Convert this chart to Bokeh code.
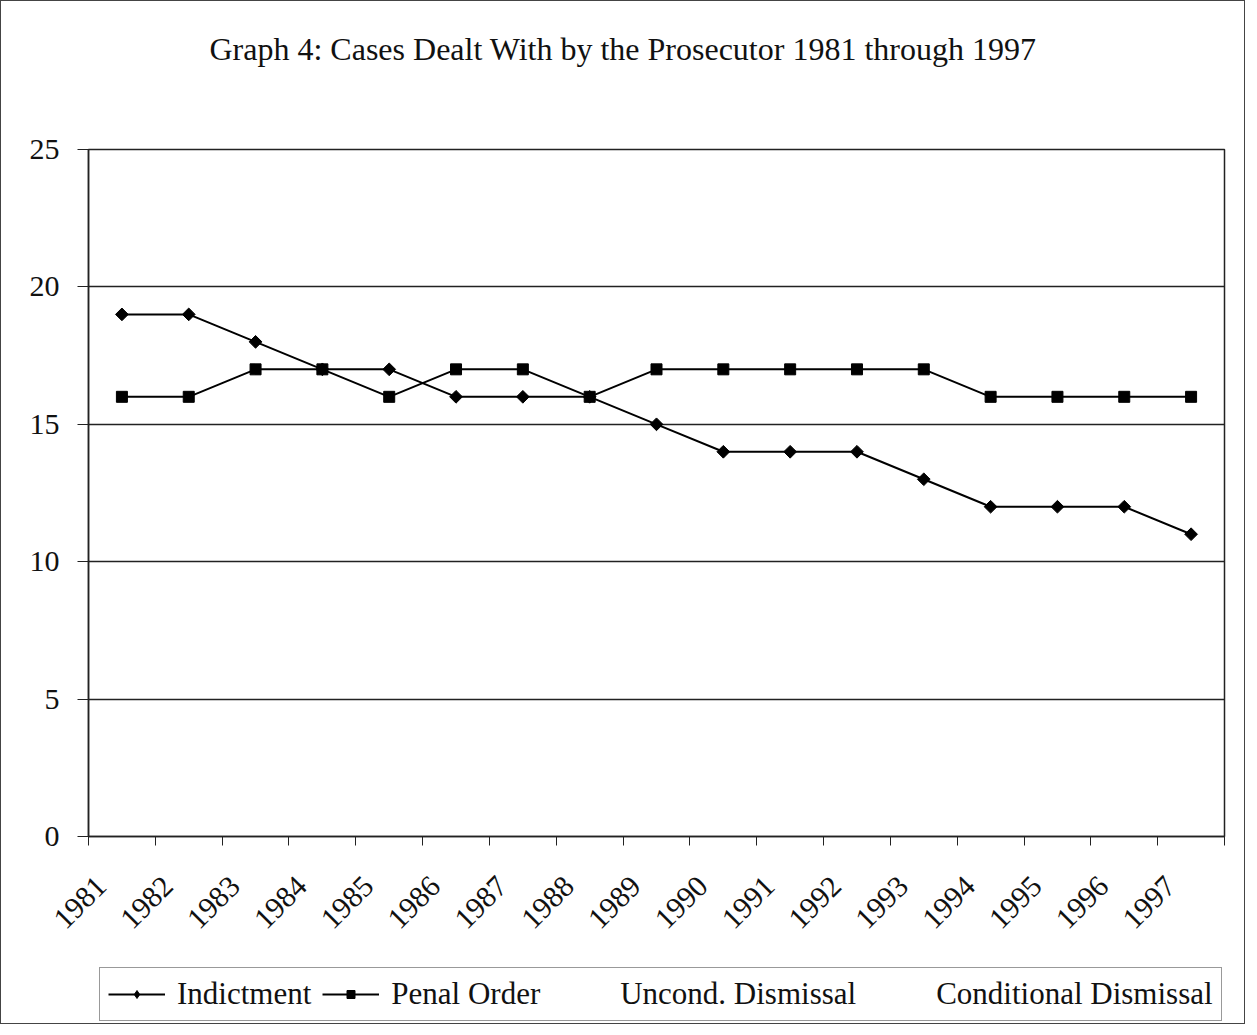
import math
from bokeh.plotting import figure
from bokeh.layouts import column
from bokeh.models import FixedTicker, Range1d, Legend, LegendItem, Title
from bokeh.embed import file_html
from bokeh.resources import INLINE

years = [1981, 1982, 1983, 1984, 1985, 1986, 1987, 1988, 1989,
         1990, 1991, 1992, 1993, 1994, 1995, 1996, 1997]
indictment = [19, 19, 18, 17, 17, 16, 16, 16, 15, 14, 14, 14, 13, 12, 12, 12, 11]
penal_order = [16, 16, 17, 17, 16, 17, 17, 16, 17, 17, 17, 17, 17, 16, 16, 16, 16]
uncond_dismissal = []      # not visible in the reference
conditional_dismissal = []  # not visible in the reference
y_ticks = [0, 5, 10, 15, 20, 25]
title_text = "Graph 4: Cases Dealt With by the Prosecutor 1981 through 1997"
series_names = ["Indictment", "Penal Order", "Uncond. Dismissal", "Conditional Dismissal"]

FONT = "Liberation Serif"
NB = "\u00a0"

p = figure(width=1243, height=952, output_backend="svg", toolbar_location=None,
           x_range=Range1d(years[0] - 0.5, years[-1] + 0.5),
           y_range=Range1d(y_ticks[0], y_ticks[-1]),
           min_border_left=87, min_border_right=20, min_border_top=148, min_border_bottom=117)

p.title.text = title_text
p.title.text_font = FONT
p.title.text_font_size = "32px"
p.title.text_font_style = "normal"
p.title.align = "left"
p.title.offset = 121
p.title.standoff = 10
p.title.text_color = "#111"
# blank spacer between the title and the plot area
p.add_layout(Title(text=NB, text_font=FONT, text_font_size="32px", standoff=40), "above")

p.outline_line_color = "#222"
p.outline_line_width = 1.5
p.background_fill_color = "white"
p.border_fill_color = "white"

# x axis: labels at category centres, ticks at category boundaries
xa = p.xaxis[0]
xa.ticker = FixedTicker(ticks=years, minor_ticks=[y - 0.5 for y in years] + [years[-1] + 0.5])
xa.major_label_overrides = {y: str(y) + NB * 4 for y in years}
xa.major_tick_out = 0
xa.major_tick_in = 0
xa.minor_tick_out = 9
xa.minor_tick_in = 0
xa.minor_tick_line_color = "#222"
xa.axis_line_color = "#222"
xa.axis_line_width = 1.5
xa.major_label_orientation = math.pi / 4
xa.major_label_text_font = FONT
xa.major_label_text_font_size = "30px"
xa.major_label_text_color = "#111"
xa.major_label_standoff = 14

ya = p.yaxis[0]
ya.ticker = FixedTicker(ticks=y_ticks)
ya.major_tick_out = 11
ya.major_tick_in = 0
ya.minor_tick_out = 0
ya.minor_tick_in = 0
ya.major_tick_line_color = "#222"
ya.axis_line_color = "#222"
ya.axis_line_width = 1.5
ya.major_label_text_font = FONT
ya.major_label_text_font_size = "30px"
ya.major_label_text_color = "#111"
ya.major_label_standoff = 18

p.xgrid.grid_line_color = None
p.ygrid.grid_line_color = "#222"
p.ygrid.grid_line_width = 1.5

p.line(years, indictment, line_color="black", line_width=2)
p.scatter(years, indictment, marker="square", angle=math.pi / 4, size=9,
          fill_color="black", line_color="black")
p.line(years, penal_order, line_color="black", line_width=2)
p.scatter(years, penal_order, marker="square", size=11,
          fill_color="black", line_color="black")

# legend strip (part of the same chart box); its ranges keep the series out of view,
# so only the legend keys are drawn
lf = figure(width=1243, height=70, output_backend="svg", toolbar_location=None,
            x_range=Range1d(0, 1), y_range=Range1d(0, 1),
            x_axis_type=None, y_axis_type=None, min_border=0)
lf.outline_line_color = None
lf.background_fill_color = "white"
lf.border_fill_color = "white"

l1 = lf.line(years, indictment, line_color="black", line_width=2)
k1 = lf.scatter(years, indictment, marker="diamond", size=13, fill_color="black", line_color="black")
l2 = lf.line(years, penal_order, line_color="black", line_width=2)
k2 = lf.scatter(years, penal_order, marker="square", size=9, fill_color="black", line_color="black")
l3 = lf.line(years[:len(uncond_dismissal)], uncond_dismissal, line_alpha=0)
l4 = lf.line(years[:len(conditional_dismissal)], conditional_dismissal, line_alpha=0)

legend = Legend(items=[
    LegendItem(label=series_names[0], renderers=[l1, k1]),
    LegendItem(label=series_names[1], renderers=[l2, k2]),
    LegendItem(label=series_names[2], renderers=[l3]),
    LegendItem(label=series_names[3], renderers=[l4]),
], orientation="horizontal", location=(11, 2))
legend.label_text_font = FONT
legend.label_text_font_size = "31px"
legend.label_text_color = "#111"
legend.glyph_width = 57
legend.glyph_height = 20
legend.label_standoff = 12
legend.spacing = 11
legend.padding = 8
legend.margin = 0
legend.border_line_color = "#333"
legend.border_line_width = 1.5
legend.background_fill_color = "white"
lf.add_layout(legend, "center")

layout = column(p, lf, spacing=0, styles={"border": "1px solid #444"})

open("out.html", "w").write(file_html(layout, INLINE))
